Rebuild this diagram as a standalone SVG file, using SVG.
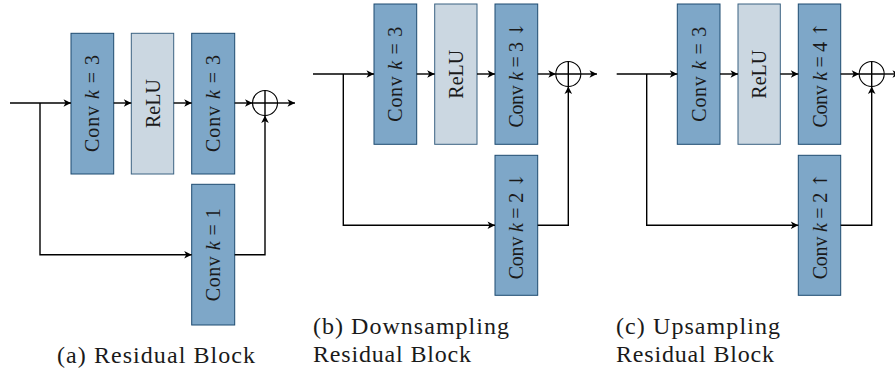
<svg xmlns="http://www.w3.org/2000/svg" width="895" height="373" viewBox="0 0 895 373">
<style>
.conv{fill:#7ea7c8;stroke:#1d4a70;stroke-width:1}
.relu{fill:#cbd7e1;stroke:#3b6282;stroke-width:1}
.bt{font-family:"Liberation Serif",serif;font-size:20px;fill:#1a1a1a;text-anchor:middle}
.it{font-style:italic}
.ar{font-family:"DejaVu Serif",serif;font-size:19px}
.cap{font-family:"Liberation Serif",serif;font-size:24px;fill:#1a1a1a}
.ln{fill:none;stroke:#000;stroke-width:1.4}
.arr{marker-end:url(#ah)}
.sum{fill:#fff;stroke:#000;stroke-width:1.1}
</style>
<defs>
<marker id="ah" markerUnits="userSpaceOnUse" markerWidth="10" markerHeight="10" viewBox="-8 -5 10 10" refX="0" refY="0" orient="auto">
<path d="M0,0 L-7.5,-3.8 L-5.5,0 L-7.5,3.8 Z" fill="#000"/>
</marker>
</defs>

<!-- Panel (a) -->
<g id="a-conv1"><rect class="conv" x="71" y="33.3" width="42.7" height="140.7"/><text class="bt" transform="translate(92.3,103.6) rotate(-90)" y="7" textLength="97">Conv <tspan class="it">k</tspan> = 3</text></g>
<g id="a-relu"><rect class="relu" x="131.3" y="33.3" width="42.4" height="140.7"/><text class="bt" transform="translate(152.5,103.6) rotate(-90)" y="7">ReLU</text></g>
<g id="a-conv2"><rect class="conv" x="191.7" y="33.3" width="43" height="140.7"/><text class="bt" transform="translate(213.2,103.6) rotate(-90)" y="7" textLength="97">Conv <tspan class="it">k</tspan> = 3</text></g>
<g id="a-conv3"><rect class="conv" x="191.7" y="184.3" width="43" height="140.7"/><text class="bt" transform="translate(213.2,254.7) rotate(-90)" y="7" textLength="93">Conv <tspan class="it">k</tspan> = 1</text></g>
<g id="a-sum"><circle class="sum" cx="265" cy="103" r="12.5"/><path class="ln" d="M252.5,103 H277.5 M265,90.5 V115.5" stroke-width="1.1"/></g>

<!-- Panel (b) -->
<g id="b-conv1"><rect class="conv" x="374" y="4" width="42.7" height="140.3"/><text class="bt" transform="translate(395.3,74.2) rotate(-90)" y="7" textLength="95">Conv <tspan class="it">k</tspan> = 3</text></g>
<g id="b-relu"><rect class="relu" x="434.7" y="4" width="42.3" height="140.3"/><text class="bt" transform="translate(455.8,74.2) rotate(-90)" y="7">ReLU</text></g>
<g id="b-conv2"><rect class="conv" x="495" y="4" width="42.7" height="140.3"/><text class="bt" transform="translate(516.3,74.6) rotate(-90)" y="7" textLength="106">Conv <tspan class="it">k</tspan> = 3 <tspan class="ar">↓</tspan></text></g>
<g id="b-conv3"><rect class="conv" x="495" y="155.3" width="42.7" height="140"/><text class="bt" transform="translate(516.3,225.8) rotate(-90)" y="7" textLength="107">Conv <tspan class="it">k</tspan> = 2 <tspan class="ar">↓</tspan></text></g>
<g id="b-sum"><circle class="sum" cx="568.3" cy="74" r="12.5"/><path class="ln" d="M555.8,74 H580.8 M568.3,61.5 V86.5" stroke-width="1.1"/></g>

<!-- Panel (c) -->
<g id="c-conv1"><rect class="conv" x="677.3" y="4" width="42.7" height="140.3"/><text class="bt" transform="translate(698.6,74.2) rotate(-90)" y="7" textLength="95">Conv <tspan class="it">k</tspan> = 3</text></g>
<g id="c-relu"><rect class="relu" x="738" y="4" width="42.3" height="140.3"/><text class="bt" transform="translate(759.1,74.2) rotate(-90)" y="7">ReLU</text></g>
<g id="c-conv2"><rect class="conv" x="798.3" y="4" width="42.4" height="140.3"/><text class="bt" transform="translate(819.5,74.6) rotate(-90)" y="7" textLength="106">Conv <tspan class="it">k</tspan> = 4 <tspan class="ar">↑</tspan></text></g>
<g id="c-conv3"><rect class="conv" x="798.3" y="155.3" width="42.4" height="140"/><text class="bt" transform="translate(819.5,225.8) rotate(-90)" y="7" textLength="107">Conv <tspan class="it">k</tspan> = 2 <tspan class="ar">↑</tspan></text></g>
<g id="c-sum"><circle class="sum" cx="871.7" cy="74" r="12.5"/><path class="ln" d="M859.2,74 H884.2 M871.7,61.5 V86.5" stroke-width="1.1"/></g>

<g id="connectors">
<!-- a -->
<path class="ln arr" d="M10,103 H71"/>
<path class="ln arr" d="M40,103 V254.7 H191.7"/>
<path class="ln arr" d="M113.7,103 H131.3"/>
<path class="ln arr" d="M173.7,103 H191.7"/>
<path class="ln arr" d="M234.7,103 H252.5"/>
<path class="ln arr" d="M277.5,103 H295"/>
<path class="ln arr" d="M234.7,254.7 H265 V115.5"/>
<!-- b -->
<path class="ln arr" d="M313,74 H374"/>
<path class="ln arr" d="M343.3,74 V225.3 H495"/>
<path class="ln arr" d="M416.7,74 H434.7"/>
<path class="ln arr" d="M477,74 H495"/>
<path class="ln arr" d="M537.7,74 H555.8"/>
<path class="ln arr" d="M580.8,74 H597"/>
<path class="ln arr" d="M537.7,225.3 H568.3 V86.5"/>
<!-- c -->
<path class="ln arr" d="M616.7,74 H677.3"/>
<path class="ln arr" d="M646.7,74 V225.3 H798.3"/>
<path class="ln arr" d="M720,74 H738"/>
<path class="ln arr" d="M780.3,74 H798.3"/>
<path class="ln arr" d="M840.7,74 H859.2"/>
<path class="ln arr" d="M884.2,74 H900"/>
<path class="ln arr" d="M840.7,225.3 H871.7 V86.5"/>
</g>

<g id="captions">
<text class="cap" x="57" y="363" textLength="198">(a) Residual Block</text>
<text class="cap" x="313" y="333.5" textLength="196">(b) Downsampling</text>
<text class="cap" x="313" y="362" textLength="158">Residual Block</text>
<text class="cap" x="616" y="333.5" textLength="164">(c) Upsampling</text>
<text class="cap" x="616" y="362" textLength="158">Residual Block</text>
</g>
</svg>
